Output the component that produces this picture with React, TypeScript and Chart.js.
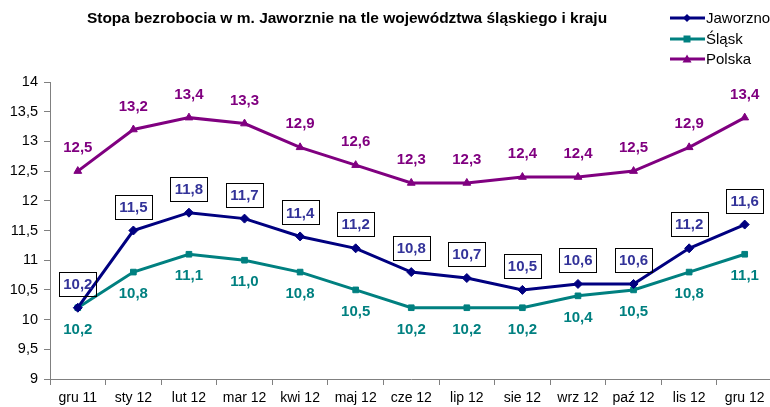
import React, { useEffect, useRef } from "react";
import { Chart, registerables } from "chart.js";

Chart.register(...registerables);

const categories = ["gru 11", "sty 12", "lut 12", "mar 12", "kwi 12", "maj 12", "cze 12", "lip 12", "sie 12", "wrz 12", "paź 12", "lis 12", "gru 12"];
const jaworzno = [10.2, 11.5, 11.8, 11.7, 11.4, 11.2, 10.8, 10.7, 10.5, 10.6, 10.6, 11.2, 11.6];
const slask = [10.2, 10.8, 11.1, 11.0, 10.8, 10.5, 10.2, 10.2, 10.2, 10.4, 10.5, 10.8, 11.1];
const polska = [12.5, 13.2, 13.4, 13.3, 12.9, 12.6, 12.3, 12.3, 12.4, 12.4, 12.5, 12.9, 13.4];
const seriesNames = ["Jaworzno", "Śląsk", "Polska"];
const titleText = "Stopa bezrobocia w m. Jaworznie na tle województwa śląskiego i kraju";

const COLORS = ["#000080", "#008080", "#800080"];
const LABEL_COLORS = ["#333399", "#008080", "#800080"];
const STYLES = ["rectRot", "rect", "triangle"];
const FONT = "'Liberation Sans', Arial, sans-serif";

const fmt = (v: number) => v.toFixed(1).replace(".", ",");

const customPlugin = {
  id: "custom",
  afterDatasetsDraw(chart: any) {
    const ctx = chart.ctx;
    ctx.save();
    // data labels
    ctx.font = `bold 15px ${FONT}`;
    ctx.textAlign = "center";
    ctx.textBaseline = "middle";
    chart.data.datasets.forEach((ds: any, i: number) => {
      const meta = chart.getDatasetMeta(i);
      meta.data.forEach((pt: any, j: number) => {
        const v = ds.data[j];
        const t = fmt(v);
        let y = pt.y;
        if (i === 0) {
          y = pt.y - 24;
          ctx.strokeStyle = "#000";
          ctx.lineWidth = 1;
          ctx.strokeRect(Math.round(pt.x - 18.5) + 0.5, Math.round(y - 12) + 0.5, 37, 24);
        } else if (i === 1) {
          y = pt.y + 21;
        } else {
          y = pt.y - 24;
        }
        ctx.fillStyle = LABEL_COLORS[i];
        ctx.fillText(t, pt.x, y + 1);
      });
    });
    // title
    ctx.font = `bold 15.5px ${FONT}`;
    ctx.fillStyle = "#000";
    ctx.textAlign = "center";
    ctx.fillText(titleText, 347, 19);
    // legend
    ctx.font = `15px ${FONT}`;
    ctx.textAlign = "left";
    const rows = [18, 39, 59];
    seriesNames.forEach((name, i) => {
      const y = rows[i];
      ctx.strokeStyle = COLORS[i];
      ctx.fillStyle = COLORS[i];
      ctx.lineWidth = 3;
      ctx.beginPath();
      ctx.moveTo(670, y);
      ctx.lineTo(705, y);
      ctx.stroke();
      ctx.beginPath();
      const cx = 687;
      if (i === 0) {
        ctx.moveTo(cx, y - 4);
        ctx.lineTo(cx + 4, y);
        ctx.lineTo(cx, y + 4);
        ctx.lineTo(cx - 4, y);
        ctx.closePath();
      } else if (i === 1) {
        ctx.rect(cx - 3.5, y - 3.5, 7, 7);
      } else {
        ctx.moveTo(cx, y - 4.5);
        ctx.lineTo(cx + 4.5, y + 3.5);
        ctx.lineTo(cx - 4.5, y + 3.5);
        ctx.closePath();
      }
      ctx.fill();
      ctx.fillStyle = "#000";
      ctx.fillText(name, 706, y + 1);
    });
    ctx.restore();
  },
};

export default function App() {
  const ref = useRef<HTMLCanvasElement>(null);
  useEffect(() => {
    if (!ref.current) return;
    const data = [jaworzno, slask, polska];
    const chart = new Chart(ref.current, {
      type: "line",
      data: {
        labels: categories,
        datasets: data.map((d, i) => ({
          label: seriesNames[i],
          data: d,
          borderColor: COLORS[i],
          backgroundColor: COLORS[i],
          borderWidth: 3,
          pointStyle: STYLES[i] as any,
          pointRadius: i === 1 ? 4 : 4.5,
          pointBackgroundColor: COLORS[i],
          pointBorderColor: COLORS[i],
          pointBorderWidth: 1,
          tension: 0,
          fill: false,
        })),
      },
      options: {
        animation: false,
        responsive: false,
        layout: { padding: { top: 82, right: 0, left: 0, bottom: 0 } },
        plugins: {
          legend: { display: false },
          title: { display: false },
          tooltip: { enabled: false },
        },
        scales: {
          x: {
            offset: true,
            grid: {
              display: true,
              drawOnChartArea: false,
              drawTicks: true,
              tickLength: 6,
              offset: true,
              color: "#808080",
            },
            border: { display: true, color: "#808080", width: 1 },
            ticks: {
              color: "#000",
              font: { family: FONT, size: 14 },
              padding: 5,
              maxRotation: 0,
              autoSkip: false,
            },
            afterFit: (s: any) => {
              s.height = 28;
            },
          },
          y: {
            min: 9,
            max: 14,
            grid: {
              display: true,
              drawOnChartArea: false,
              drawTicks: true,
              tickLength: 6,
              color: "#808080",
            },
            border: { display: true, color: "#808080", width: 1 },
            ticks: {
              stepSize: 0.5,
              color: "#000",
              font: { family: FONT, size: 14.5 },
              padding: 6,
              callback: (v: any) => {
                const n = Number(v);
                return Number.isInteger(n) ? String(n) : n.toFixed(1).replace(".", ",");
              },
            },
            afterFit: (s: any) => {
              s.width = 50;
            },
          },
        },
      },
      plugins: [customPlugin],
    });
    return () => chart.destroy();
  }, []);
  return (
    <div style={{ position: "absolute", left: 0, top: 0, width: 770, height: 407, overflow: "hidden", background: "#fff" }}>
      <canvas ref={ref} width={778} height={407} style={{ display: "block" }} />
    </div>
  );
}
